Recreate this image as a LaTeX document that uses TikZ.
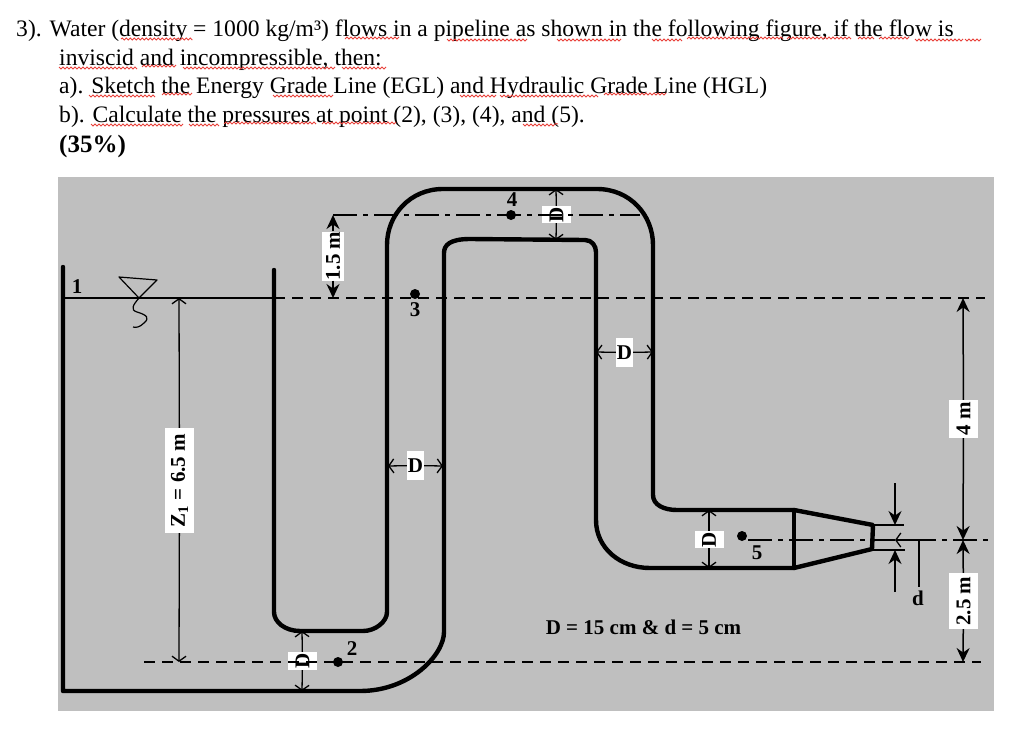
\documentclass[tikz,border=0pt]{standalone}
\usepackage{fontspec}
\setmainfont{Liberation Serif}
\usetikzlibrary{arrows.meta,decorations.pathmorphing}
\definecolor{panelgray}{HTML}{BFBFBF}
\definecolor{spellred}{HTML}{E8403A}
\tikzset{
  prob/.style={anchor=base west, inner sep=0pt, font=\fontsize{23.6}{26}\selectfont},
  wavy/.style={spellred, line width=0.9pt, decorate, decoration={snake, amplitude=1pt, segment length=4pt}},
  wall/.style={line width=4.4pt, line cap=round, line join=round},
  lvl/.style={line width=1.5pt, dash pattern=on 11pt off 7pt},
  axis/.style={line width=1.5pt, dash pattern=on 24pt off 6pt on 5pt off 6pt},
  box/.style={fill=white, inner sep=0pt, font=\bfseries\fontsize{21}{24}\selectfont},
  lbl/.style={inner sep=0pt, font=\bfseries\fontsize{21}{24}\selectfont},
  pt/.style={circle, fill=black, inner sep=0pt, minimum size=10pt},
  dimopen/.style={line width=1.3pt, -{Straight Barb[length=5pt,width=14pt]}},
  dimsolid/.style={line width=1.5pt, -{Stealth[length=14pt,width=13pt]}}
}
\begin{document}
\begin{tikzpicture}[x=1pt,y=-1pt]
  \useasboundingbox (0,0) rectangle (1024,744);
  \fill[panelgray] (58,177) rectangle (994,711);
  \node[prob] (l1) at (16,36) {3). Water (density = 1000 kg/m³) flows in a pipeline as shown in the following figure, if the flow is};
  \node[prob] (l2) at (59,65) {inviscid and incompressible, then:};
  \node[prob] (l3) at (59,93) {a). Sketch the Energy Grade Line (EGL) and Hydraulic Grade Line (HGL)};
  \node[prob] (l4) at (59,122) {b). Calculate the pressures at point (2), (3), (4), and (5).};
  \node[prob, font=\bfseries\fontsize{25}{28}\selectfont] (l5) at (59,152) {(35\%)};
  \draw[wavy] (121,39) -- (192,39) (345,39) -- (398,39) (447,39) -- (527,39)
  (557,39) -- (621,39) (652,39) -- (683,39) (687,39) -- (783,39) (787,39) -- (850,39)
  (858,39) -- (875,39) (879,39) -- (909,39) (915,39) -- (962,39) (965,39) -- (982,39)
  (59,67) -- (136,67) (142,67) -- (176,67) (183,67) -- (336,67) (342,67) -- (386,67)
  (89,95) -- (155,95) (162,95) -- (192,95) (273,95) -- (333,95)
  (460,95) -- (495,95) (500,95) -- (599,95) (604,95) -- (665,95)
  (91,124) -- (183,124) (189,124) -- (220,124) (224,124) -- (315,124) (322,124) -- (396,124)
  (523,124) -- (558,124);

  % boxes first, the level lines run over them
  \node[box, rotate=90, minimum width=42pt, minimum height=22pt] (h15) at (333,256) {1.5 m};
  \node[box, rotate=90, minimum width=105pt, minimum height=29pt] (z1) at (179.5,480.5) {Z\textsubscript{1} = 6.5 m};
  \node[box, minimum width=17pt, minimum height=29pt] (dleft) at (415.5,465.5) {D};
  \node[box, rotate=90, minimum width=18pt, minimum height=29pt] (dlow) at (302.5,661) {D};
  \node[box, rotate=90, minimum width=17pt, minimum height=29pt] (dtop) at (556.5,214.5) {D};
  \node[box, minimum width=17pt, minimum height=29pt] (dright) at (624.5,352.5) {D};
  \node[box, rotate=90, minimum width=17pt, minimum height=29pt] (dnoz) at (709,539.5) {D};
  \node[box, rotate=90, minimum width=38pt, minimum height=29pt] (h4) at (963.5,419) {4 m};
  \node[box, rotate=90, minimum width=56pt, minimum height=29pt] (h25) at (963.5,601) {2.5 m};

  \path (63,298) coordinate (surfL) (274,298) coordinate (surfR) (985,298) coordinate (surfE)
  (144,662) coordinate (baseL) (981,662) coordinate (baseR)
  (333,215) coordinate (upL) (640,215) coordinate (upR)
  (748,540) coordinate (noseL) (990,540) coordinate (noseR)
  (179,298) coordinate (zTop) (179,662) coordinate (zLow)
  (333,298) coordinate (hLow) (963,298) coordinate (fourTop) (963,540) coordinate (fourLow) (963,662) coordinate (fourBase)
  (388,466) coordinate (a1) (443,466) coordinate (a2) (302,631) coordinate (b1) (302,691) coordinate (b2)
  (556,189) coordinate (c1) (556,240) coordinate (c2) (596,352) coordinate (e1) (653,352) coordinate (e2)
  (709,510) coordinate (f1) (709,568) coordinate (f2)
  (895,483) coordinate (g1) (895,525) coordinate (g2) (895,592) coordinate (g3) (895,550) coordinate (g4)
  (873,525) coordinate (j1) (904,525) coordinate (j2) (873,550) coordinate (j3) (905,550) coordinate (j4)
  (919,540) coordinate (k1) (895,540) coordinate (k2) (919,587) coordinate (k3);

  % pipe and tank
  \draw[wall] (63,267) -- (63,691) -- (360,691) .. controls (410,691) and (444,655) .. (444,632)
  -- (444,253) .. controls (444,245) and (450,239) .. (470,239) -- (585,240)
  .. controls (592,240) and (596,246) .. (596,252) -- (596,520)
  .. controls (596,548) and (620,568) .. (650,568) -- (794,568) -- (872,549) -- (873,525) -- (794,510)
  -- (677,510) .. controls (664,510) and (653,505) .. (653,495) -- (653,245)
  .. controls (653,215) and (630,189) .. (597,189) -- (443,189)
  .. controls (410,189) and (387,215) .. (387,245) -- (387,612)
  .. controls (387,622) and (375,631) .. (363,631) -- (300,631)
  .. controls (285,631) and (274,622) .. (274,612) -- (274,270);
  \draw[wall] (794,510) -- (794,568);

  \draw[line width=1.6pt] (surfL) -- (surfR);
  \draw[lvl] (surfR) -- (surfE);
  \draw[lvl] (baseL) -- (baseR);
  \draw[axis] (upL) -- (upR);
  \draw[axis] (noseL) -- (noseR);

  % free surface mark
  \draw[line width=1.2pt, line join=round] (139,298) -- (119,277) -- (157,280) -- cycle;
  \draw[line width=1.2pt] (139,298) .. controls (133,305) and (130,310) .. (137,312)
  .. controls (147,315) and (150,318) .. (144,323) .. controls (140,327) and (136,328) .. (133,327);

  \node[pt] (p2) at (338,662) {};
  \node[pt] (p3) at (415,294) {};
  \node[pt] (p4) at (511,215) {};
  \node[pt] (p5) at (742,536) {};
  \node[lbl] (n1) at (77,287) {1};
  \node[lbl] (n2) at (352,649) {2};
  \node[lbl] (n3) at (415,310) {3};
  \node[lbl] (n4) at (512,200) {4};
  \node[lbl] (n5) at (757,553) {5};
  \node[lbl] (nd) at (918,598) {d};
  \node[lbl] (note) at (643.5,627) {D = 15 cm \& d = 5 cm};

  \path[dimsolid] (h15) edge (upL) edge (hLow)
  (h4) edge (fourTop) edge (fourLow)
  (h25) edge (fourLow) edge (fourBase)
  (g1) edge (g2) (g3) edge (g4);
  \path[dimopen] (z1) edge (zTop) edge (zLow)
  (dleft) edge (a1) edge (a2)
  (dlow) edge (b1) edge (b2)
  (dtop) edge (c1) edge (c2)
  (dright) edge (e1) edge (e2)
  (dnoz) edge (f1) edge (f2)
  (k1) edge (k2);
  \draw[line width=1.3pt] (j1) -- (j2);
  \draw[line width=1.3pt] (j3) -- (j4);
  \draw[line width=1.3pt] (k1) -- (k3);
\end{tikzpicture}
\end{document}
